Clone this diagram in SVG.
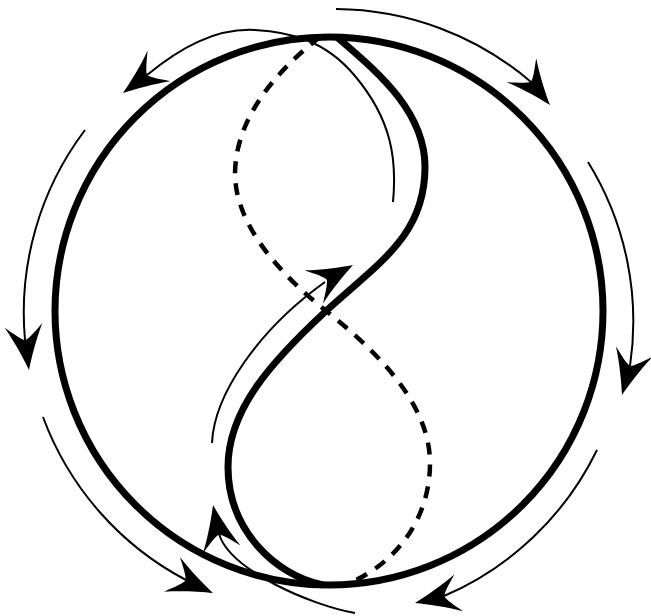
<svg xmlns="http://www.w3.org/2000/svg" xmlns:xlink="http://www.w3.org/1999/xlink" width="651" height="616" viewBox="0 0 651 616">
<style>
.thick{fill:none;stroke:#000;stroke-width:7}
.dash{fill:none;stroke:#000;stroke-width:4.5;stroke-dasharray:12 10}
.thin{fill:none;stroke:#000;stroke-width:2}
.head{fill:#000;stroke:none}
</style>
<defs>
<path id="ah" class="head" d="M0,0 C-12,-4 -30,-11 -45,-19 C-37,-10 -32,-5 -30,0 C-32,5 -37,10 -45,19 C-30,11 -12,4 0,0 Z"/>
</defs>
<rect width="651" height="616" fill="#fff"/>
<g id="dashed-curve">
<path class="dash" d="M320,37 C275,72 236,118 235,173 C235,225 280,274 325,310 C370,346 430,400 430,463 C430,520 395,565 345,585"/>
</g>
<g id="circle">
<circle class="thick" cx="329" cy="311" r="274"/>
</g>
<g id="s-curve">
<path class="thick" d="M337,37 C375,70 425,110 425,167 C425,235 380,262 326,311 C271,362 228,410 228,467 C228,530 275,575 323,585"/>
</g>
<g id="connectors">
<path class="thin" d="M393,202 C397,160 392,120 355,76 C325,40 290,32 255,30 C215,28 180,48 147,75"/>
<path class="thin" d="M336,9 A303,303 0 0 1 531,82"/>
<path class="thin" d="M85,130 A303,303 0 0 0 25,340"/>
<path class="thin" d="M43,417 A303,303 0 0 0 186,580"/>
<path class="thin" d="M588,162 A303,303 0 0 1 630,366"/>
<path class="thin" d="M597,450 A303,303 0 0 1 444,596"/>
<path class="thin" d="M355,613 C310,605 230,570 219,534"/>
<path class="thin" d="M212,443 C214,395 258,330 325,282"/>
<use xlink:href="#ah" transform="translate(123,93) rotate(143.1)"/>
<use xlink:href="#ah" transform="translate(550,105) rotate(50.7)"/>
<use xlink:href="#ah" transform="translate(29,370) rotate(83)"/>
<use xlink:href="#ah" transform="translate(213,593) rotate(24.5)"/>
<use xlink:href="#ah" transform="translate(622,395) rotate(105.8)"/>
<use xlink:href="#ah" transform="translate(415,603) rotate(166.8)"/>
<use xlink:href="#ah" transform="translate(213,505) rotate(258.7)"/>
<use xlink:href="#ah" transform="translate(353,265) rotate(-29.2)"/>
</g>
</svg>
